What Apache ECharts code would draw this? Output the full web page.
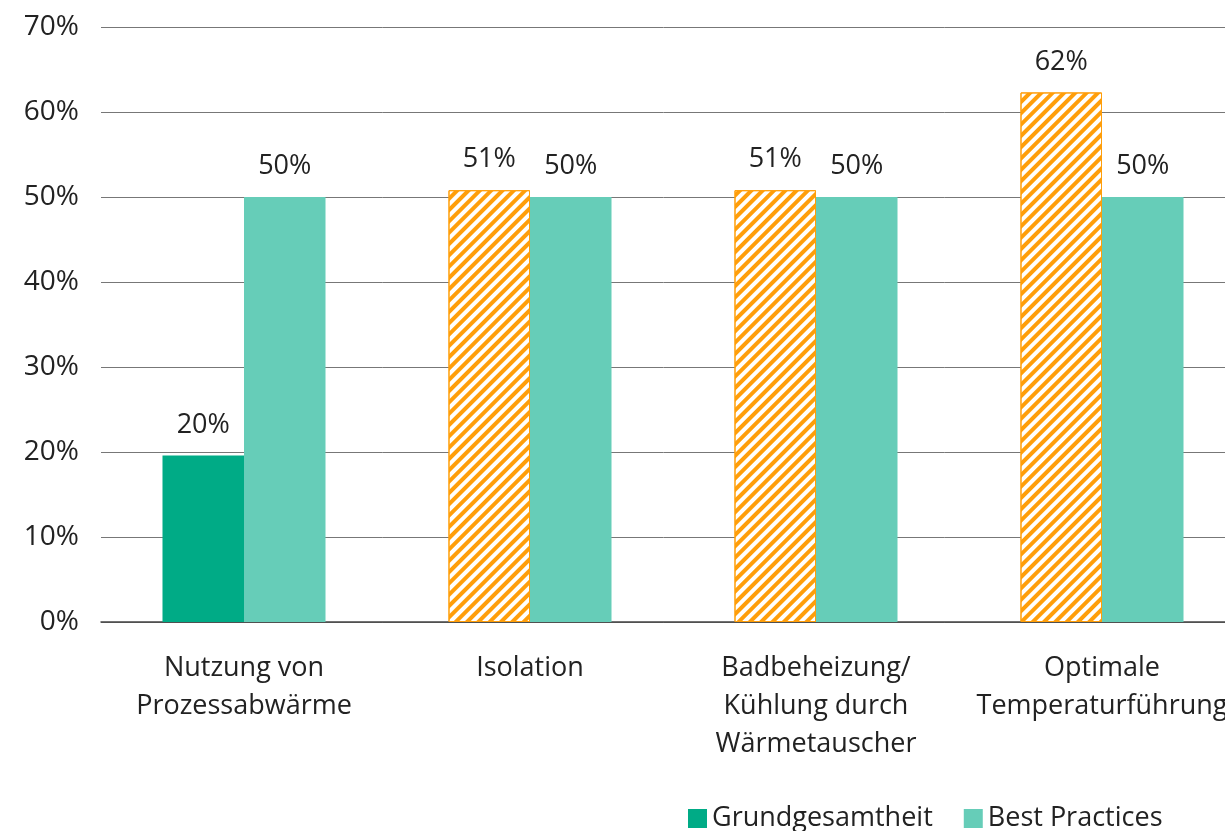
<!DOCTYPE html>
<html>
<head>
<meta charset="utf-8">
<script src="https://cdn.jsdelivr.net/npm/echarts@6/dist/echarts.min.js"></script>
<style>
html,body{margin:0;padding:0;background:#fff;}
#chart{width:1225px;height:831px;}
</style>
</head>
<body>
<div id="chart"></div>
<script>
const categories = ['Nutzung von\nProzessabwärme', 'Isolation', 'Badbeheizung/\nKühlung durch\nWärmetauscher', 'Optimale\nTemperaturführung'];
const grundValues = [19.6, 50.8, 50.8, 62.3];
const grundLabels = ['20%', '51%', '51%', '62%'];
const hatched = [false, true, true, true];
const bestValues = [50, 50, 50, 50];
const bestLabels = ['50%', '50%', '50%', '50%'];
const yTicks = [0, 10, 20, 30, 40, 50, 60, 70];

const green = '#00AB86';
const light = '#66CDB8';
const orange = '#FF9E0A';
const font = 'Open Sans';

const grundData = grundValues.map(function (v, i) {
  if (!hatched[i]) return v;
  return {
    value: v,
    itemStyle: {
      color: '#ffffff',
      borderColor: orange,
      borderWidth: 1,
      decal: {
        symbol: 'rect',
        color: orange,
        dashArrayX: [1, 0],
        dashArrayY: [4, 4],
        rotation: -Math.PI / 4
      }
    }
  };
});

const myecharts = echarts.init(document.getElementById('chart'));
const option = {
  animation: false,
  textStyle: { fontFamily: font },
  grid: { left: 101, width: 1144, top: 27, bottom: 209, outerBoundsMode: 'none', containLabel: false },
  legend: {
    bottom: -6,
    left: 683,
    icon: 'rect',
    itemWidth: 19,
    itemHeight: 19,
    itemGap: 31,
    textStyle: { fontSize: 27, color: '#222', fontFamily: font },
    data: ['Grundgesamtheit', 'Best Practices']
  },
  xAxis: {
    type: 'category',
    data: categories,
    axisTick: { show: false },
    axisLine: { lineStyle: { color: '#444', width: 1.5 } },
    axisLabel: { fontSize: 27, color: '#222', lineHeight: 38, margin: 27, interval: 0, hideOverlap: false }
  },
  yAxis: {
    type: 'value',
    min: yTicks[0],
    max: yTicks[yTicks.length - 1],
    interval: 10,
    axisLine: { show: false },
    axisTick: { show: false },
    splitLine: { lineStyle: { color: '#777', width: 1 } },
    axisLabel: { fontSize: 28, color: '#222', margin: 22, formatter: '{value}%' }
  },
  series: [
    {
      name: 'Grundgesamtheit',
      type: 'bar',
      data: grundData,
      itemStyle: { color: green },
      barGap: '0%',
      barCategoryGap: '43%',
      label: {
        show: true,
        position: 'top',
        distance: 17,
        fontSize: 27,
        color: '#222',
        formatter: function (p) { return grundLabels[p.dataIndex]; }
      }
    },
    {
      name: 'Best Practices',
      type: 'bar',
      data: bestValues,
      itemStyle: { color: light },
      label: {
        show: true,
        position: 'top',
        distance: 17,
        fontSize: 27,
        color: '#222',
        formatter: function (p) { return bestLabels[p.dataIndex]; }
      }
    }
  ]
};
myecharts.setOption(option);
</script>
</body>
</html>
